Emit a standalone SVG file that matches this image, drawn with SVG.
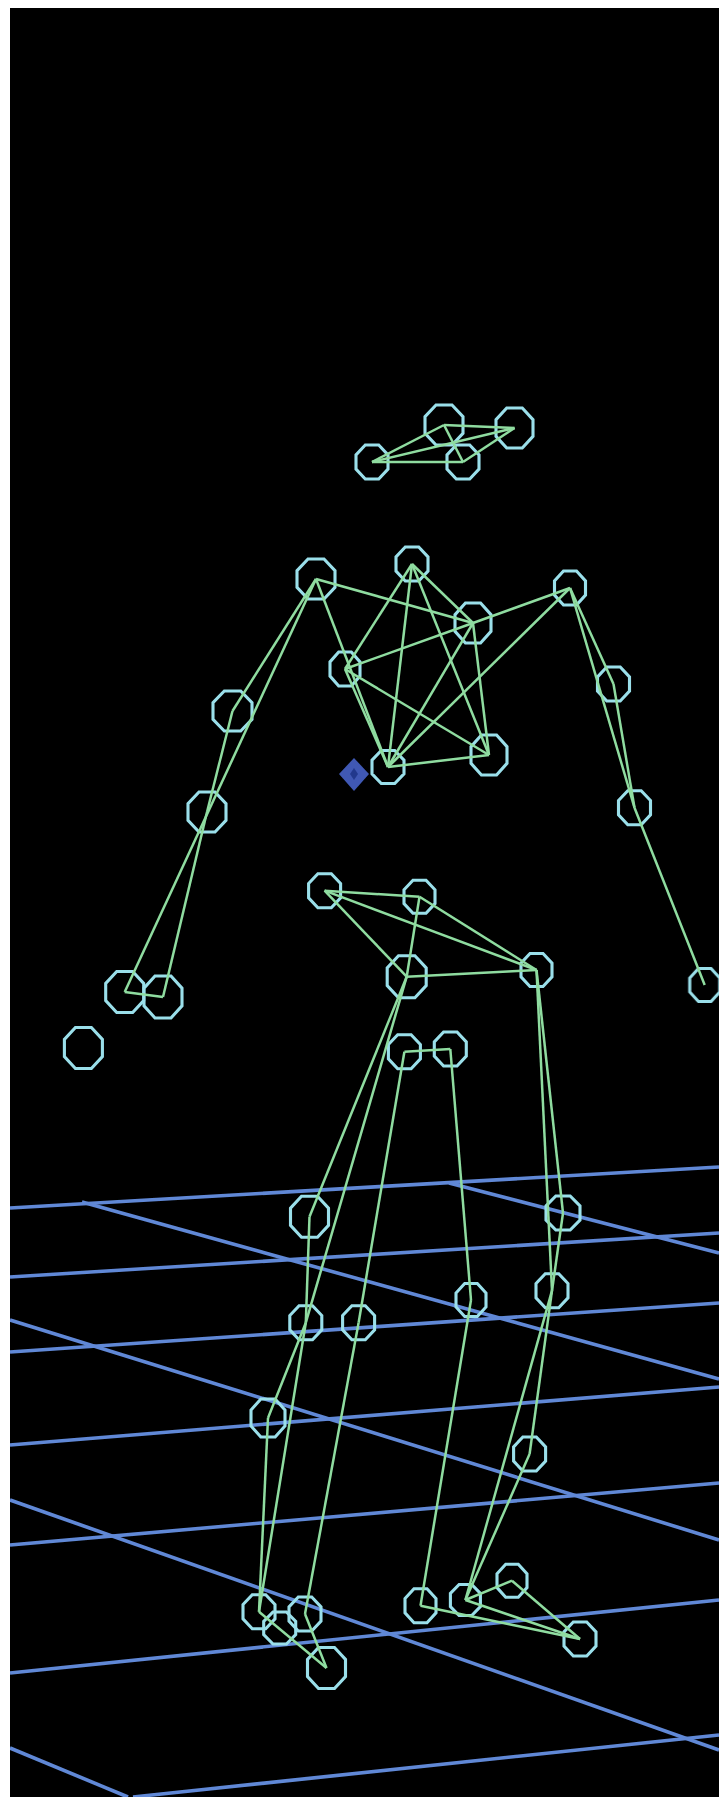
<svg xmlns="http://www.w3.org/2000/svg" width="719" height="1797" viewBox="0 0 719 1797">
<style>
.bg{fill:#000}
.grid line{stroke:#6088d6;stroke-width:3.6}
.edges line{stroke:#8fdca0;stroke-width:2.5}
.oct{fill:none;stroke:#9adfea;stroke-width:3.1;vector-effect:non-scaling-stroke}
</style>
<defs>
<polygon id="o" class="oct" points="0.42,-1 -0.42,-1 -1,-0.42 -1,0.42 -0.42,1 0.42,1 1,0.42 1,-0.42"/>
<filter id="soft" x="0" y="0" width="1" height="1" filterUnits="objectBoundingBox"><feGaussianBlur stdDeviation="0.55"/></filter>
</defs>
<rect width="719" height="1797" fill="#fff"/>
<rect class="bg" x="10" y="8" width="709" height="1789"/>
<g filter="url(#soft)">
<rect x="10" y="8" width="709" height="1789" fill="#000"/>
<g class="grid" id="floor">
<line x1="10" y1="1208" x2="719" y2="1167"/>
<line x1="10" y1="1277" x2="719" y2="1233"/>
<line x1="10" y1="1352" x2="719" y2="1303"/>
<line x1="10" y1="1445" x2="719" y2="1387"/>
<line x1="10" y1="1545" x2="719" y2="1483"/>
<line x1="10" y1="1673" x2="719" y2="1600"/>
<line x1="133" y1="1797" x2="719" y2="1735"/>
<line x1="82" y1="1202" x2="719" y2="1379"/>
<line x1="449" y1="1183" x2="719" y2="1253"/>
<line x1="10" y1="1320" x2="719" y2="1540"/>
<line x1="10" y1="1500" x2="719" y2="1750"/>
<line x1="10" y1="1748" x2="128" y2="1797"/>
</g>
<g id="A"><use href="#o" transform="translate(444,425) scale(19,20)"/></g>
<g id="B"><use href="#o" transform="translate(514.5,428) scale(18.5,20)"/></g>
<g id="C"><use href="#o" transform="translate(372,462) scale(16,17)"/></g>
<g id="D"><use href="#o" transform="translate(463,462) scale(16,17)"/></g>
<g id="E"><use href="#o" transform="translate(316,579) scale(19,20)"/></g>
<g id="F"><use href="#o" transform="translate(412,564) scale(16,17)"/></g>
<g id="G"><use href="#o" transform="translate(570,588) scale(15.5,17)"/></g>
<g id="H"><use href="#o" transform="translate(473,623) scale(18,20)"/></g>
<g id="I"><use href="#o" transform="translate(345,669) scale(15,17)"/></g>
<g id="J"><use href="#o" transform="translate(232.5,711) scale(19.5,20)"/></g>
<g id="K"><use href="#o" transform="translate(613.5,684) scale(16,17)"/></g>
<g id="L"><use href="#o" transform="translate(388,767) scale(16,16.5)"/></g>
<g id="M"><use href="#o" transform="translate(489,755) scale(18,20)"/></g>
<g id="N"><use href="#o" transform="translate(207,812) scale(19,20)"/></g>
<g id="O"><use href="#o" transform="translate(634.5,807.7) scale(16,17)"/></g>
<g id="P"><use href="#o" transform="translate(124.7,992) scale(19,20.5)"/></g>
<g id="Q"><use href="#o" transform="translate(163,997) scale(19,21)"/></g>
<g id="R"><use href="#o" transform="translate(83.4,1048) scale(19,20.5)"/></g>
<g id="S"><use href="#o" transform="translate(324.6,890.7) scale(16,17)"/></g>
<g id="T"><use href="#o" transform="translate(419.5,896.7) scale(15.5,16.5)"/></g>
<g id="U"><use href="#o" transform="translate(406.7,976.7) scale(19.5,21)"/></g>
<g id="V"><use href="#o" transform="translate(536.5,970) scale(15.5,16.5)"/></g>
<g id="W"><use href="#o" transform="translate(704.7,985) scale(15,16.5)"/></g>
<g id="X"><use href="#o" transform="translate(404.4,1051.7) scale(16,17)"/></g>
<g id="Y"><use href="#o" transform="translate(450.3,1049) scale(16,17)"/></g>
<g id="Z"><use href="#o" transform="translate(309.5,1216.7) scale(19,20.5)"/></g>
<g id="a"><use href="#o" transform="translate(563,1213) scale(17,17)"/></g>
<g id="b"><use href="#o" transform="translate(471,1300) scale(15,16.5)"/></g>
<g id="c"><use href="#o" transform="translate(552,1290.7) scale(16,17)"/></g>
<g id="d"><use href="#o" transform="translate(305.8,1322.7) scale(16,17)"/></g>
<g id="e"><use href="#o" transform="translate(358.6,1322.7) scale(16,17)"/></g>
<g id="f"><use href="#o" transform="translate(268,1418) scale(17,19)"/></g>
<g id="g"><use href="#o" transform="translate(529.6,1454) scale(16,17)"/></g>
<g id="h"><use href="#o" transform="translate(512,1580.7) scale(15,16.5)"/></g>
<g id="i"><use href="#o" transform="translate(465.4,1600) scale(15,15.5)"/></g>
<g id="j"><use href="#o" transform="translate(420.5,1605.7) scale(15.5,17)"/></g>
<g id="k"><use href="#o" transform="translate(580,1639) scale(16,17)"/></g>
<g id="l"><use href="#o" transform="translate(259,1611.7) scale(16,17)"/></g>
<g id="m"><use href="#o" transform="translate(279.7,1628) scale(16,16)"/></g>
<g id="n"><use href="#o" transform="translate(305,1614) scale(16,17)"/></g>
<g id="o2"><use href="#o" transform="translate(326.5,1668) scale(19,20.5)"/></g>
<g id="diamond"><polygon points="354,758 369,774 354,791 339,774" fill="#3f58b4"/><polygon points="354,768 358,774 354,780 350,774" fill="#24388c"/></g>
<g class="edges" id="connectors">
<line x1="444" y1="425" x2="514.5" y2="428"/>
<line x1="444" y1="425" x2="372" y2="462"/>
<line x1="444" y1="425" x2="463" y2="462"/>
<line x1="372" y1="462" x2="463" y2="462"/>
<line x1="372" y1="462" x2="514.5" y2="428"/>
<line x1="514.5" y1="428" x2="463" y2="462"/>
<line x1="316" y1="579" x2="473" y2="623"/>
<line x1="316" y1="579" x2="388" y2="767"/>
<line x1="316" y1="579" x2="124.7" y2="992"/>
<line x1="316" y1="579" x2="232.5" y2="711"/>
<line x1="232.5" y1="711" x2="207" y2="812"/>
<line x1="207" y1="812" x2="163" y2="997"/>
<line x1="124.7" y1="992" x2="163" y2="997"/>
<line x1="412" y1="564" x2="345" y2="669"/>
<line x1="412" y1="564" x2="473" y2="623"/>
<line x1="412" y1="564" x2="388" y2="767"/>
<line x1="412" y1="564" x2="489" y2="755"/>
<line x1="473" y1="623" x2="345" y2="669"/>
<line x1="473" y1="623" x2="388" y2="767"/>
<line x1="473" y1="623" x2="489" y2="755"/>
<line x1="570" y1="588" x2="473" y2="623"/>
<line x1="570" y1="588" x2="388" y2="767"/>
<line x1="345" y1="669" x2="388" y2="767"/>
<line x1="345" y1="669" x2="489" y2="755"/>
<line x1="388" y1="767" x2="489" y2="755"/>
<line x1="570" y1="588" x2="613.5" y2="684"/>
<line x1="570" y1="588" x2="634.5" y2="807.7"/>
<line x1="613.5" y1="684" x2="634.5" y2="807.7"/>
<line x1="634.5" y1="807.7" x2="704.7" y2="985"/>
<line x1="324.6" y1="890.7" x2="419.5" y2="896.7"/>
<line x1="324.6" y1="890.7" x2="536.5" y2="970"/>
<line x1="324.6" y1="890.7" x2="406.7" y2="976.7"/>
<line x1="419.5" y1="896.7" x2="406.7" y2="976.7"/>
<line x1="419.5" y1="896.7" x2="536.5" y2="970"/>
<line x1="406.7" y1="976.7" x2="536.5" y2="970"/>
<line x1="406.7" y1="976.7" x2="309.5" y2="1216.7"/>
<line x1="406.7" y1="976.7" x2="305.8" y2="1322.7"/>
<line x1="309.5" y1="1216.7" x2="305.8" y2="1322.7"/>
<line x1="305.8" y1="1322.7" x2="268" y2="1418"/>
<line x1="305.8" y1="1322.7" x2="259" y2="1611.7"/>
<line x1="268" y1="1418" x2="259" y2="1611.7"/>
<line x1="259" y1="1611.7" x2="326.5" y2="1668"/>
<line x1="305" y1="1614" x2="326.5" y2="1668"/>
<line x1="404.4" y1="1051.7" x2="450.3" y2="1049"/>
<line x1="404.4" y1="1051.7" x2="358.6" y2="1322.7"/>
<line x1="358.6" y1="1322.7" x2="305" y2="1614"/>
<line x1="450.3" y1="1049" x2="471" y2="1300"/>
<line x1="471" y1="1300" x2="420.5" y2="1605.7"/>
<line x1="536.5" y1="970" x2="563" y2="1213"/>
<line x1="536.5" y1="970" x2="552" y2="1290.7"/>
<line x1="563" y1="1213" x2="552" y2="1290.7"/>
<line x1="552" y1="1290.7" x2="529.6" y2="1454"/>
<line x1="552" y1="1290.7" x2="465.4" y2="1600"/>
<line x1="529.6" y1="1454" x2="465.4" y2="1600"/>
<line x1="465.4" y1="1600" x2="512" y2="1580.7"/>
<line x1="465.4" y1="1600" x2="580" y2="1639"/>
<line x1="512" y1="1580.7" x2="580" y2="1639"/>
<line x1="420.5" y1="1605.7" x2="580" y2="1639"/>
</g>
</g>
</svg>
